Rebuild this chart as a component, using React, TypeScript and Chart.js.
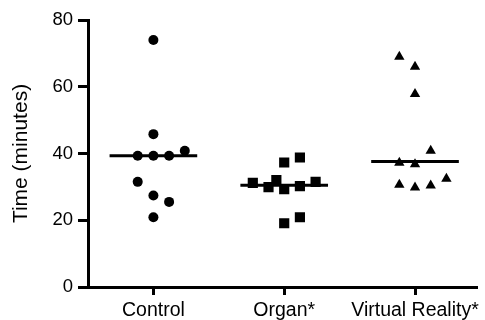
import React, { useEffect, useRef } from "react";
import { Chart, registerables } from "chart.js";

Chart.register(...registerables);

const categories = ["Control", "Organ*", "Virtual Reality*"];

// values (minutes) and horizontal jitter slots for each group
const controlValues = [74.0, 45.8, 40.8, 39.3, 39.3, 39.3, 31.5, 27.4, 25.5, 20.9];
const controlSlots = [0, 0, 2, -1, 0, 1, -1, 0, 1, 0];

const organValues = [37.3, 38.8, 31.2, 29.9, 32.0, 29.3, 30.2, 31.5, 19.1, 20.9];
const organSlots = [0, 1, -2, -1, -0.5, 0, 1, 2, 0, 1];

const vrValues = [69.0, 66.0, 57.8, 40.8, 37.2, 36.8, 30.6, 29.8, 30.4, 32.4];
const vrSlots = [-1, 0, 0, 1, -1, 0, -1, 0, 1, 2];

const medians = [39.3, 30.5, 37.6];
const yTicks = [0, 20, 40, 60, 80];

const JITTER = 0.12;
const HALF_LINE = 0.335;

function pts(values: number[], slots: number[], group: number) {
  return values.map((v, i) => ({ x: group + 1 + slots[i] * JITTER, y: v }));
}

export default function App() {
  const ref = useRef<HTMLCanvasElement | null>(null);
  useEffect(() => {
    document.body.style.margin = "0";
    const ctx = ref.current!;
    Chart.defaults.font.family = "'Liberation Sans', Arial, sans-serif";
    const groups = [
      { values: controlValues, slots: controlSlots, style: "circle", r: 5 },
      { values: organValues, slots: organSlots, style: "rect", r: 7.2 },
      { values: vrValues, slots: vrSlots, style: "triangle", r: 6 },
    ];
    const pointSets = groups.map((g, gi) => ({
      label: categories[gi],
      data: pts(g.values, g.slots, gi),
      pointStyle: g.style,
      pointRadius: g.r,
      pointBackgroundColor: "#000",
      pointBorderColor: "#000",
      pointBorderWidth: 0,
      showLine: false,
      order: 0,
    }));
    const lineSets = medians.map((m, gi) => ({
      label: "median " + categories[gi],
      data: [
        { x: gi + 1 - HALF_LINE, y: m },
        { x: gi + 1 + HALF_LINE, y: m },
      ],
      showLine: true,
      borderColor: "#000",
      borderWidth: 3,
      pointRadius: 0,
      order: 1,
    }));
    const chart = new Chart(ctx, {
      type: "scatter",
      data: { datasets: [...pointSets, ...lineSets] as any },
      options: {
        responsive: false,
        animation: false,
        layout: { padding: { top: 20, right: 0, bottom: 0, left: 0 } },
        plugins: { legend: { display: false }, tooltip: { enabled: false } },
        scales: {
          x: {
            type: "linear",
            min: 0.5,
            max: 3.48,
            afterBuildTicks: (s: any) => {
              s.ticks = categories.map((_, i) => ({ value: i + 1 }));
            },
            afterFit: (s: any) => {
              s.height = 33;
            },
            ticks: {
              callback: (_v: any, i: number) => categories[i] ?? "",
              color: "#000",
              font: { size: 19.5 },
              padding: 4,
              maxRotation: 0,
              autoSkip: false,
            },
            grid: {
              display: true,
              drawOnChartArea: false,
              drawTicks: true,
              tickLength: 8,
              tickWidth: 3,
              tickColor: "#000",
            },
            border: { display: true, color: "#000", width: 3 },
          },
          y: {
            type: "linear",
            min: 0,
            max: 80,
            afterBuildTicks: (s: any) => {
              s.ticks = yTicks.map((v) => ({ value: v }));
            },
            afterFit: (s: any) => {
              s.width = 88;
            },
            ticks: { color: "#000", font: { size: 18.5 }, padding: 5 },
            grid: {
              display: true,
              drawOnChartArea: false,
              drawTicks: true,
              tickLength: 10,
              tickWidth: 3,
              tickColor: "#000",
            },
            border: { display: true, color: "#000", width: 3 },
            title: {
              display: true,
              text: "Time (minutes)",
              color: "#000",
              font: { size: 21 },
              padding: { top: 9, bottom: 0 },
            },
          },
        },
      },
    } as any);
    return () => chart.destroy();
  }, []);
  return (
    <div style={{ width: 485, height: 320 }}>
      <canvas ref={ref} width={485} height={320} style={{ display: "block" }} />
    </div>
  );
}
